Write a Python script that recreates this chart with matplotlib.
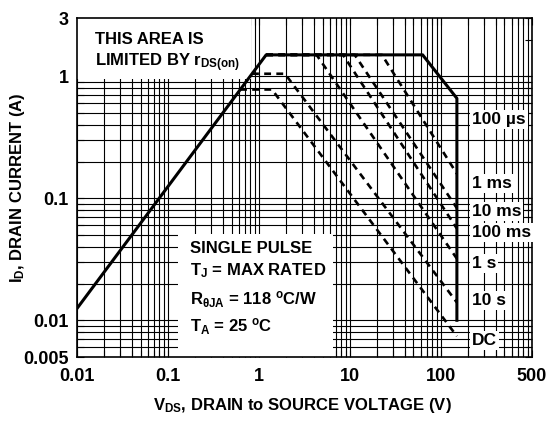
import matplotlib
matplotlib.use('Agg')
from matplotlib import pyplot as plt
from matplotlib.patches import Rectangle

plt.rcParams['font.family'] = ['Liberation Sans', 'DejaVu Sans']
plt.rcParams['font.weight'] = 'bold'
plt.rcParams['axes.labelweight'] = 'bold'
plt.rcParams['mathtext.fontset'] = 'custom'
plt.rcParams['mathtext.rm'] = 'Liberation Sans:bold'
plt.rcParams['mathtext.it'] = 'Liberation Sans:bold'
plt.rcParams['mathtext.bf'] = 'Liberation Sans:bold'
plt.rcParams['mathtext.default'] = 'rm'

# solid limit (rDS(on) line, current limit, 100 us, BVdss)
limit_v = [0.01, 1.2, 63, 150, 150]
limit_i = [0.0125, 1.5, 1.5, 0.66, 0.01]

# dashed pulse curves: plateau start, knee, end at 150 V
pulse_v = [[0.62, 1.39, 150],
           [0.84, 1.93, 150],
           [1.2, 4.3, 150],
           [1.2, 8.4, 150],
           [1.2, 11.3, 150],
           [1.2, 22.5, 150]]
pulse_i = [[0.78, 0.78, 0.0074],
           [1.05, 1.05, 0.014],
           [1.5, 1.5, 0.032],
           [1.5, 1.5, 0.0565],
           [1.5, 1.5, 0.083],
           [1.5, 1.5, 0.159]]

curve_labels = ['100 \u00b5s', '1 ms', '10 ms', '100 ms', '1 s', '10 s', 'DC']
curve_label_i = [0.4095, 0.1207, 0.0713, 0.0481, 0.0268, 0.0134, 0.0063]

xticks = [0.01, 0.1, 1, 10, 100, 1000]
xtick_labels = ['0.01', '0.1', '1', '10', '100', '500']
yticks = [0.005, 0.01, 0.1, 1, 3]
ytick_labels = ['0.005', '0.01', '0.1', '1', '3']

xgrid = [m * 10.0 ** e for e in range(-2, 3) for m in range(1, 10)] + [1000]
ygrid = [0.006, 0.007, 0.008, 0.009] + [m * 10.0 ** e for e in (-2, -1) for m in range(1, 10)] + [1]

fig = plt.figure(figsize=(5.54, 4.22), dpi=100)
ax = fig.add_axes([0.139, 0.154, 0.821, 0.803])
ax.set_xscale('log')
ax.set_yscale('log')
ax.set_xlim(0.01, 1000)
ax.set_ylim(0.005, 3)

for v in xgrid:
    ax.axvline(v, color='black', lw=0.8, zorder=1)
for v in ygrid:
    ax.axhline(v, color='black', lw=0.8, zorder=1)

# white areas behind the notes
ax.add_patch(Rectangle((0.01, 0.945), 0.817 - 0.01, 3 - 0.945, fc='white', ec='none', zorder=2))
ax.add_patch(Rectangle((0.129, 0.005), 6.5 - 0.129, 0.051 - 0.005, fc='white', ec='none', zorder=2))

for vv, ii in zip(pulse_v, pulse_i):
    ax.plot(vv, ii, color='black', lw=1.9, ls=(0, (2.6, 2.0)), zorder=3)
ax.plot(limit_v, limit_i, color='black', lw=2.2, zorder=4)

for lab, yi in zip(curve_labels, curve_label_i):
    ax.text(219, yi, lab, fontsize=12.5, ha='left', va='baseline', zorder=5,
            bbox=dict(fc='white', ec='none', pad=1.5))

ax.text(0.0158, 1.84, 'THIS AREA IS', fontsize=12, va='baseline', zorder=5)
ax.text(0.0158, 1.22, 'LIMITED BY r$_\\mathrm{DS(on)}$', fontsize=12, va='baseline', zorder=5)

ax.text(0.174, 0.0359, 'SINGLE PULSE', fontsize=12, va='baseline', zorder=5)
ax.text(0.174, 0.0233, 'T$_\\mathrm{J}$ = MAX RATED', fontsize=12, va='baseline', zorder=5)
ax.text(0.174, 0.0135, 'R$_\\mathrm{\u03b8JA}$ = 118 $^\\mathrm{o}$C/W', fontsize=12, va='baseline', zorder=5)
ax.text(0.174, 0.00802, 'T$_\\mathrm{A}$ = 25 $^\\mathrm{o}$C', fontsize=12, va='baseline', zorder=5)

ax.set_xticks(xticks)
ax.set_xticklabels(xtick_labels)
ax.set_yticks(yticks)
ax.set_yticklabels(ytick_labels)
ax.set_yticks([0.006, 0.007, 0.008, 0.009] + [m * 0.01 for m in range(2, 10)] +
              [m * 0.1 for m in range(2, 10)] + [2], minor=True)
ax.yaxis.set_minor_formatter(plt.NullFormatter())
ax.tick_params(which='both', direction='in', top=True, right=True, length=5, width=0.8)
ax.tick_params(axis='x', pad=8, labelsize=13)
ax.tick_params(axis='y', pad=6, labelsize=13)
for s in ax.spines.values():
    s.set_linewidth(1.2)

ax.set_xlabel('V$_\\mathrm{DS}$, DRAIN to SOURCE VOLTAGE (V)', fontsize=12)
ax.set_ylabel('I$_\\mathrm{D}$, DRAIN CURRENT (A)', fontsize=12)
ax.xaxis.set_label_coords(0.495, -0.115)
ax.yaxis.set_label_coords(-0.11, 0.5)

fig.savefig('out.png', dpi=100)
